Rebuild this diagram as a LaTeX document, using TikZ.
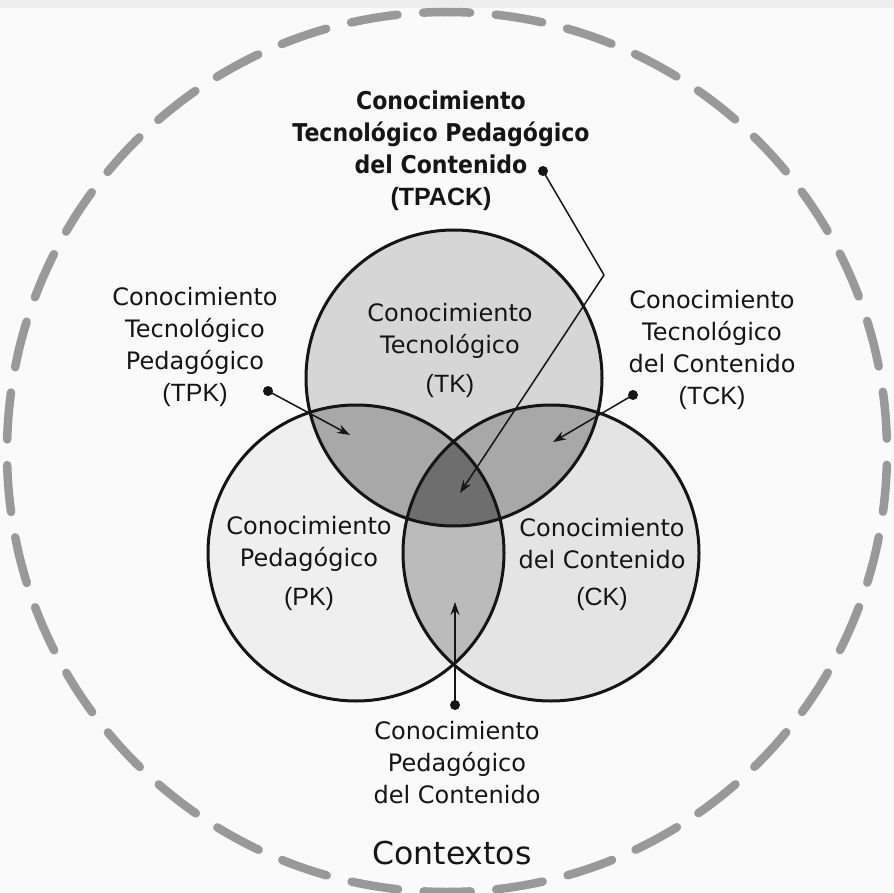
\documentclass[tikz,border=0pt]{standalone}
\usepackage{fontspec}
\setmainfont{DejaVu Sans}
\newfontfamily\acrfont{Liberation Sans}
\newfontfamily\ttlfont[FakeStretch=0.9]{DejaVu Sans}
\usetikzlibrary{arrows.meta}
\definecolor{bgc}{HTML}{FAFAFA}
\definecolor{bandc}{HTML}{EEEEEE}
\definecolor{dashc}{HTML}{999999}
\definecolor{tkfill}{HTML}{D6D6D6}
\definecolor{pkfill}{HTML}{EFEFEF}
\definecolor{ckfill}{HTML}{E4E4E4}
\definecolor{tpkfill}{HTML}{A8A8A8}
\definecolor{tckfill}{HTML}{A8A8A8}
\definecolor{pckfill}{HTML}{BBBBBB}
\definecolor{tpackfill}{HTML}{6E6E6E}
\definecolor{ink}{HTML}{151515}
\tikzset{
  venn/.style={circle, draw=ink, line width=3pt, minimum size=296pt, inner sep=0pt},
  lbl/.style={align=center, text=ink, inner sep=0pt, font=\fontsize{24}{32}\selectfont},
  ttl/.style={align=center, text=ink, inner sep=0pt, font=\fontsize{24.5}{32}\selectfont\ttlfont\bfseries},
  ctx/.style={text=ink, inner sep=0pt, font=\fontsize{31.5}{36}\selectfont},
  acr/.style={},
  dotn/.style={circle, fill=ink, minimum size=10pt, inner sep=0pt},
  arr/.style={draw=ink, line width=1.5pt, -{Stealth[length=13pt,width=9pt]}},
  lnk/.style={draw=ink, line width=1.5pt}
}
\newcommand{\acr}[1]{{\acrfont\fontsize{25}{32}\selectfont #1}}
\begin{document}
\begin{tikzpicture}[x=1pt,y=-1pt]
\useasboundingbox (0,0) rectangle (894,893);
\fill[bgc] (0,0) rectangle (894,893);
\fill[bandc] (0,0) rectangle (894,8);
% context circle
\draw[dashc, line width=8.5pt, line cap=round, dash pattern=on 47pt off 25.75pt, dash phase=59.9pt] (447,452) circle (440);
% venn centres
\coordinate (ctk) at (454,378);
\coordinate (cpk) at (356,553);
\coordinate (cck) at (551,553);
\fill[pkfill] (cpk) circle (148);
\fill[ckfill] (cck) circle (148);
\fill[tkfill] (ctk) circle (148);
\begin{scope}
  \clip (ctk) circle (148);
  \fill[tpkfill] (cpk) circle (148);
  \fill[tckfill] (cck) circle (148);
\end{scope}
\begin{scope}
  \clip (cpk) circle (148);
  \fill[pckfill] (cck) circle (148);
  \clip (ctk) circle (148);
  \fill[tpackfill] (cck) circle (148);
\end{scope}
\node[venn] (TK) at (ctk) {};
\node[venn] (PK) at (cpk) {};
\node[venn] (CK) at (cck) {};
% labels
\node[ttl] (ttpack) at (441,151) {Conocimiento\\Tecnológico Pedagógico\\del Contenido\\{\acrfont\bfseries\fontsize{25}{32}\selectfont (TPACK)}};
\node[lbl] (ltk) at (450,350) {Conocimiento\\Tecnológico\\[7pt]\acr{(TK)}};
\node[lbl] (lpk) at (309,563) {Conocimiento\\Pedagógico\\[7pt]\acr{(PK)}};
\node[lbl] (lck) at (602,564) {Conocimiento\\del Contenido\\[5pt]\acr{(CK)}};
\node[lbl] (ltpk) at (195,347) {Conocimiento\\Tecnológico\\Pedagógico\\\acr{(TPK)}};
\node[lbl] (ltck) at (712,350) {Conocimiento\\Tecnológico\\del Contenido\\\acr{(TCK)}};
\node[lbl] (lpck) at (457,763) {Conocimiento\\Pedagógico\\del Contenido};
\node[ctx] (lctx) at (452,853) {Contextos};
% pointers
\node[dotn] (dtpack) at (543,171) {};
\node[dotn] (dtpk) at (268,391) {};
\node[dotn] (dtck) at (633,395) {};
\node[dotn] (dpck) at (455,705) {};
\coordinate (kink) at (604,275);
\coordinate (atpack) at (460,493);
\coordinate (atpk) at (350,435);
\coordinate (atck) at (553,442);
\coordinate (apck) at (455,602);
\draw[lnk] (dtpack.center) -- (kink);
\draw[arr] (kink) -- (atpack);
\draw[arr] (dtpk.center) -- (atpk);
\draw[arr] (dtck.center) -- (atck);
\draw[arr] (dpck.center) -- (apck);
\end{tikzpicture}
\end{document}
